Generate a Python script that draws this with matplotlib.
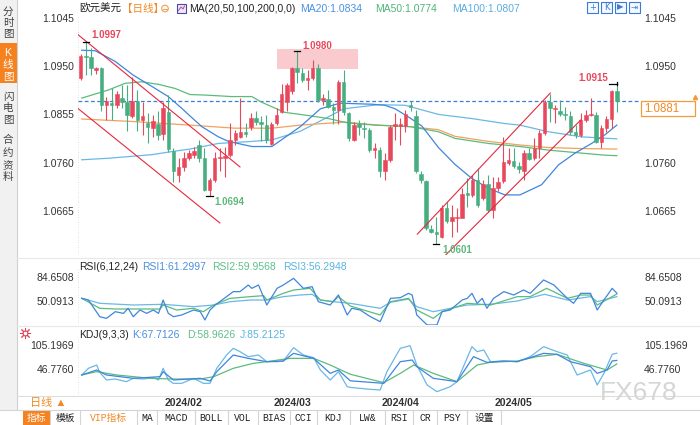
import matplotlib
matplotlib.use('Agg')
import matplotlib.pyplot as plt
from matplotlib.patches import Rectangle, Circle
from matplotlib.transforms import blended_transform_factory

plt.rcParams['font.family'] = ['Liberation Sans', 'Noto Sans CJK SC', 'DejaVu Sans']
plt.rcParams['axes.unicode_minus'] = False

# ---------------- data (EUR/USD daily) ----------------
opens = [1.0927, 1.0969, 1.0968, 1.0942, 1.0947, 1.0874, 1.0878, 1.0874, 1.0888, 1.0880,
         1.0851, 1.0881, 1.0844, 1.0838, 1.0828, 1.0836, 1.0816, 1.0859, 1.0783, 1.0736,
         1.0751, 1.0770, 1.0776, 1.0795, 1.0769, 1.0707, 1.0726, 1.0769, 1.0770, 1.0776,
         1.0805, 1.0811, 1.0821, 1.0831, 1.0847, 1.0841, 1.0834, 1.0796, 1.0838, 1.0859,
         1.0879, 1.0900, 1.0946, 1.0936, 1.0923, 1.0926, 1.0947, 1.0883, 1.0885, 1.0870,
         1.0864, 1.0918, 1.0857, 1.0805, 1.0836, 1.0829, 1.0825, 1.0785, 1.0785, 1.0743,
         1.0766, 1.0833, 1.0833, 1.0833, 1.0874, 1.0851, 1.0738, 1.0724, 1.0630, 1.0624,
         1.0615, 1.0671, 1.0645, 1.0651, 1.0652, 1.0700, 1.0697, 1.0726, 1.0690, 1.0718,
         1.0668, 1.0710, 1.0725, 1.0759, 1.0764, 1.0753, 1.0743, 1.0780, 1.0769, 1.0789,
         1.0818, 1.0880, 1.0866, 1.0862, 1.0855, 1.0851, 1.0821, 1.0815, 1.0844, 1.0853,
         1.0854, 1.0800, 1.0828, 1.0846, 1.0901]
highs = [1.0973, 1.0997, 1.0985, 1.0949, 1.0949, 1.0890, 1.0906, 1.0900, 1.0913, 1.0913,
         1.0929, 1.0903, 1.0880, 1.0857, 1.0854, 1.0861, 1.0880, 1.0893, 1.0789, 1.0769,
         1.0782, 1.0785, 1.0792, 1.0805, 1.0789, 1.0730, 1.0782, 1.0789, 1.0792, 1.0839,
         1.0825, 1.0887, 1.0838, 1.0857, 1.0861, 1.0851, 1.0854, 1.0841, 1.0867, 1.0914,
         1.0916, 1.0949, 1.0980, 1.0946, 1.0942, 1.0962, 1.0953, 1.0896, 1.0903, 1.0877,
         1.0923, 1.0942, 1.0859, 1.0841, 1.0844, 1.0841, 1.0828, 1.0798, 1.0792, 1.0779,
         1.0834, 1.0857, 1.0847, 1.0864, 1.0881, 1.0864, 1.0743, 1.0726, 1.0638, 1.0654,
         1.0677, 1.0684, 1.0677, 1.0671, 1.0710, 1.0730, 1.0736, 1.0749, 1.0726, 1.0736,
         1.0733, 1.0733, 1.0811, 1.0789, 1.0789, 1.0762, 1.0785, 1.0789, 1.0808, 1.0825,
         1.0883, 1.0896, 1.0874, 1.0883, 1.0870, 1.0862, 1.0834, 1.0857, 1.0864, 1.0887,
         1.0859, 1.0834, 1.0851, 1.0903, 1.0915]
lows = [1.0923, 1.0932, 1.0932, 1.0934, 1.0861, 1.0844, 1.0844, 1.0867, 1.0867, 1.0823,
        1.0847, 1.0823, 1.0815, 1.0798, 1.0811, 1.0805, 1.0805, 1.0782, 1.0723, 1.0723,
        1.0743, 1.0766, 1.0769, 1.0762, 1.0704, 1.0694, 1.0723, 1.0743, 1.0733, 1.0772,
        1.0795, 1.0808, 1.0811, 1.0825, 1.0834, 1.0802, 1.0798, 1.0794, 1.0834, 1.0857,
        1.0861, 1.0896, 1.0916, 1.0919, 1.0903, 1.0923, 1.0880, 1.0874, 1.0867, 1.0836,
        1.0836, 1.0854, 1.0802, 1.0802, 1.0815, 1.0808, 1.0782, 1.0769, 1.0733, 1.0726,
        1.0762, 1.0805, 1.0795, 1.0821, 1.0861, 1.0740, 1.0720, 1.0628, 1.0622, 1.0601,
        1.0612, 1.0641, 1.0615, 1.0625, 1.0651, 1.0674, 1.0693, 1.0674, 1.0687, 1.0664,
        1.0651, 1.0704, 1.0720, 1.0756, 1.0749, 1.0740, 1.0726, 1.0766, 1.0766, 1.0769,
        1.0815, 1.0841, 1.0838, 1.0851, 1.0844, 1.0815, 1.0808, 1.0811, 1.0841, 1.0851,
        1.0798, 1.0789, 1.0821, 1.0828, 1.0859]
closes = [1.0970, 1.0967, 1.0947, 1.0947, 1.0874, 1.0881, 1.0874, 1.0895, 1.0880, 1.0853,
          1.0881, 1.0844, 1.0851, 1.0831, 1.0842, 1.0815, 1.0868, 1.0787, 1.0743, 1.0751,
          1.0770, 1.0779, 1.0783, 1.0770, 1.0707, 1.0726, 1.0770, 1.0772, 1.0774, 1.0805,
          1.0818, 1.0821, 1.0816, 1.0847, 1.0841, 1.0836, 1.0805, 1.0836, 1.0854, 1.0895,
          1.0913, 1.0946, 1.0939, 1.0923, 1.0926, 1.0947, 1.0883, 1.0887, 1.0870, 1.0864,
          1.0919, 1.0859, 1.0808, 1.0834, 1.0831, 1.0827, 1.0785, 1.0789, 1.0743, 1.0766,
          1.0831, 1.0836, 1.0836, 1.0855, 1.0870, 1.0743, 1.0726, 1.0632, 1.0625, 1.0620,
          1.0671, 1.0645, 1.0654, 1.0654, 1.0698, 1.0697, 1.0726, 1.0677, 1.0718, 1.0668,
          1.0710, 1.0722, 1.0762, 1.0766, 1.0753, 1.0748, 1.0779, 1.0768, 1.0789, 1.0818,
          1.0880, 1.0867, 1.0868, 1.0855, 1.0853, 1.0821, 1.0815, 1.0844, 1.0854, 1.0855,
          1.0800, 1.0829, 1.0846, 1.0901, 1.0881]

# moving averages (at these candle positions)
ma20_pos = [0.2, 2.8, 6.7, 10.2, 13.8, 17.0, 19.6, 21.2, 23.5, 26.7, 28.7, 33.2, 37.1, 42.6,
            46.5, 50.3, 56.5, 59.0, 61.0, 63.9, 66.2, 69.4, 72.6, 75.8, 79.1, 82.3, 85.2,
            89.4, 92.7, 95.9, 99.1, 101.7, 104.0]
ma20_val = [1.0981, 1.0980, 1.0959, 1.0932, 1.0910, 1.0890, 1.0867, 1.0852, 1.0831, 1.0811,
            1.0802, 1.0792, 1.0792, 1.0831, 1.0866, 1.0877, 1.0875, 1.0873, 1.0866, 1.0848,
            1.0832, 1.0790, 1.0757, 1.0730, 1.0710, 1.0697, 1.0697, 1.0717, 1.0756, 1.0779,
            1.0798, 1.0815, 1.0834]
ma50_pos = [0.2, 5.4, 8.6, 11.8, 15.1, 18.3, 21.2, 24.1, 29.3, 33.2, 35.1, 37.1, 39.6, 42.6,
            48.0, 51.9, 57.1, 63.9, 69.4, 72.6, 79.1, 85.2, 90.7, 97.2, 101.7, 104.0]
ma50_val = [1.0887, 1.0903, 1.0916, 1.0919, 1.0914, 1.0906, 1.0894, 1.0893, 1.0890, 1.0890,
            1.0879, 1.0870, 1.0859, 1.0855, 1.0847, 1.0838, 1.0834, 1.0831, 1.0821, 1.0808,
            1.0798, 1.0792, 1.0785, 1.0779, 1.0775, 1.0774]
ma100_pos = [0.2, 5.4, 13.8, 18.3, 21.2, 26.7, 33.2, 37.1, 42.6, 48.0, 51.0, 57.7, 62.9,
             69.4, 75.8, 82.3, 85.2, 90.7, 97.2, 104.0]
ma100_val = [1.0766, 1.0769, 1.0776, 1.0783, 1.0787, 1.0798, 1.0802, 1.0805, 1.0822, 1.0850,
             1.0866, 1.0874, 1.0873, 1.0855, 1.0847, 1.0837, 1.0834, 1.0821, 1.0811, 1.0807]
ma200_pos = [0.2, 10.2, 21.2, 29.9, 37.1, 42.6, 51.3, 57.7, 63.9, 69.4, 72.6, 79.1, 85.2,
             90.7, 97.2, 104.0]
ma200_val = [1.0846, 1.0841, 1.0834, 1.0828, 1.0828, 1.0834, 1.0840, 1.0834, 1.0831, 1.0825,
             1.0812, 1.0802, 1.0795, 1.0790, 1.0788, 1.0787]

# hand-drawn trend lines (candle position, price)
down_upper = ([-0.7, 30.9], [1.1013, 1.0752])
down_lower = ([-0.7, 27.0], [1.0868, 1.0642])
up_upper = ([65.3, 91.1], [1.0620, 1.0897])
up_lower = ([70.2, 97.0], [1.0573, 1.0844])
zone_pos = (38.1, 53.8)
zone_price = (1.0944, 1.0983)

# RSI(6,12,24)
rsi1_pos = [0.2, 1.5, 3.7, 5.0, 6.7, 8.3, 9.2, 10.2, 11.5, 12.8, 14.1, 15.1, 16.0, 17.0, 18.0,
            19.6, 21.9, 23.2, 24.1, 25.1, 26.1, 28.3, 29.6, 30.9, 32.5, 33.2, 34.5, 36.1, 38.1,
            39.3, 41.3, 43.2, 44.9, 46.1, 48.4, 50.0, 51.7, 52.6, 54.2, 56.2, 58.1, 60.1, 62.0,
            63.6, 64.3, 65.2, 67.2, 69.1, 70.1, 71.7, 74.0, 75.0, 75.9, 76.9, 77.9, 78.8, 80.1,
            82.1, 84.0, 85.9, 87.2, 89.8, 91.8, 94.4, 95.6, 97.0, 98.9, 100.2, 101.5, 103.1, 104.0]
rsi1_val = [53.9, 51.5, 27.8, 25.4, 34.9, 32.5, 39.7, 27.8, 37.3, 32.5, 37.3, 32.5, 51.5, 32.5,
            27.8, 30.2, 37.3, 34.9, 23.1, 37.3, 44.4, 56.3, 63.4, 63.4, 72.8, 68.1, 72.8, 44.4,
            68.1, 72.8, 82.3, 68.1, 70.5, 49.1, 44.4, 58.6, 30.2, 39.7, 37.3, 27.8, 20.7, 53.9,
            54.8, 61.0, 58.6, 30.2, 16.0, 16.0, 34.9, 37.3, 51.5, 53.9, 61.0, 46.8, 53.9, 39.7,
            53.9, 63.4, 58.6, 65.7, 61.0, 80.0, 72.8, 53.9, 46.8, 61.0, 61.0, 37.3, 51.5, 68.1, 61.3]
rsi2_pos = [0.2, 3.7, 6.9, 11.5, 15.4, 16.0, 18.6, 21.9, 23.8, 25.8, 29.0, 32.9, 35.5, 36.1,
            39.3, 41.3, 44.5, 46.5, 49.0, 50.0, 52.3, 58.1, 60.1, 63.6, 65.2, 68.4, 70.1, 75.0,
            79.5, 84.7, 87.2, 90.4, 94.4, 97.0, 98.9, 100.2, 104.0]
rsi2_val = [53.9, 39.7, 38.7, 38.7, 38.7, 44.4, 37.3, 39.7, 34.9, 44.4, 53.9, 56.3, 57.7, 51.5,
            61.0, 65.7, 68.1, 51.5, 49.1, 56.3, 43.0, 30.2, 49.1, 53.9, 37.3, 25.4, 34.9, 46.8,
            44.4, 56.3, 56.3, 68.1, 53.9, 58.6, 58.6, 44.4, 60.0]
rsi3_pos = [0.2, 3.7, 10.2, 16.0, 21.9, 25.8, 29.0, 32.9, 36.1, 39.3, 42.5, 44.9, 46.5, 49.0,
            52.3, 58.1, 60.1, 63.6, 65.2, 68.4, 70.1, 75.0, 79.5, 84.7, 90.0, 94.4, 98.9, 100.2,
            104.0]
rsi3_val = [53.9, 46.8, 44.4, 45.4, 42.0, 44.4, 49.1, 51.5, 51.5, 56.3, 58.6, 59.6, 51.5, 49.1,
            46.8, 39.7, 48.2, 52.9, 42.0, 34.9, 37.3, 44.4, 45.4, 50.1, 59.6, 51.5, 56.3, 49.1,
            56.3]

# KDJ(9,3,3)
k_pos = [0.2, 3.1, 5.0, 10.2, 15.4, 16.0, 18.0, 23.2, 25.1, 26.4, 29.6, 32.5, 36.1, 39.3,
         41.3, 45.2, 48.4, 50.0, 52.3, 58.8, 62.0, 64.3, 65.2, 68.4, 73.0, 76.2, 78.8, 82.1,
         84.7, 89.8, 92.4, 95.0, 98.9, 100.2, 102.1, 103.1, 104.0]
k_val = [32.2, 44.3, 32.2, 24.1, 28.1, 40.3, 20.0, 24.1, 17.6, 40.3, 80.8, 72.7, 64.6, 66.2,
         84.9, 72.7, 36.2, 44.3, 18.0, 11.9, 64.6, 68.7, 52.5, 24.1, 16.0, 76.8, 63.0, 66.2,
         64.6, 84.9, 82.5, 64.6, 52.5, 36.2, 44.3, 66.2, 67.7]
d_pos = [0.2, 3.1, 7.0, 13.5, 18.0, 23.2, 25.8, 29.6, 33.5, 36.1, 40.6, 45.2, 48.4, 52.3, 58.8,
         62.0, 64.6, 68.4, 73.0, 76.9, 79.5, 84.7, 88.5, 92.4, 97.6, 102.1, 104.0]
d_val = [32.2, 40.3, 32.2, 24.1, 22.4, 22.4, 28.1, 48.4, 60.6, 64.6, 72.7, 72.7, 56.5, 34.0,
         13.5, 36.2, 56.5, 36.2, 16.0, 56.5, 63.0, 66.2, 76.8, 82.5, 60.6, 44.3, 59.0]
j_pos = [0.2, 1.5, 3.1, 3.7, 5.0, 6.7, 8.9, 10.2, 12.2, 14.1, 15.1, 16.0, 17.0, 18.0, 19.6,
         21.9, 23.8, 25.1, 26.4, 28.3, 29.6, 30.9, 32.5, 34.5, 36.1, 38.1, 39.3, 41.3, 43.2,
         45.2, 46.5, 48.4, 50.0, 51.7, 52.3, 54.2, 56.2, 58.1, 59.4, 62.0, 63.9, 65.2, 67.2,
         69.1, 71.7, 73.0, 75.9, 76.9, 78.2, 79.5, 82.1, 84.7, 87.2, 89.8, 92.4, 94.4, 96.3,
         98.9, 100.2, 101.5, 103.1, 104.0]
j_val = [32.2, 48.4, 56.5, 38.7, 20.0, 22.4, 16.0, 24.1, 22.4, 25.7, 20.0, 48.4, 20.0, 11.9,
         11.9, 24.1, 11.9, 11.9, 48.4, 80.8, 97.1, 89.0, 76.8, 80.8, 64.6, 64.6, 66.2, 98.7,
         80.8, 74.4, 44.3, 20.0, 40.3, 3.8, 2.0, -0.3, -2.7, -4.3, 40.3, 97.1, 103.5, 56.5,
         7.9, -8.4, 3.8, 16.0, 101.1, 89.0, 93.0, 64.6, 66.2, 64.6, 76.8, 101.1, 89.0, 80.8,
         32.2, 44.3, 7.9, 36.2, 82.5, 85.2]

month_pos = [20, 41, 62, 84]
month_labels = ['2024/02', '2024/03', '2024/04', '2024/05']
price_ticks = [1.1045, 1.0950, 1.0855, 1.0760, 1.0665]
rsi_ticks = [84.6508, 50.0913]
kdj_ticks = [105.1969, 46.7760]

# ---------------- colours ----------------
UP = '#e8485c'
DOWN = '#46ae80'
C_BLUE = '#3f86dc'
C_GREEN = '#5cbb7c'
C_LBLUE = '#6ab8e6'
C_ORANGE = '#f2a25c'
ORANGE = '#f5821f'
GREY = '#333333'

fig = plt.figure(figsize=(7, 4.25), dpi=100)

# pixel-space layer for the window chrome
ui = fig.add_axes([0, 0, 1, 1])
ui.set_xlim(0, 700)
ui.set_ylim(425, 0)
ui.axis('off')


def panel(top, bottom):
    return fig.add_axes([78 / 700, 1 - bottom / 425, (640 - 78) / 700, (bottom - top) / 425])


main = panel(15, 255)
rsi = panel(268, 325)
kdj = panel(337, 395)
XLIM = (-0.52, 108.5)
for a in (main, rsi, kdj):
    a.set_facecolor('none')
    a.set_xlim(*XLIM)
    for s in a.spines.values():
        s.set_visible(False)
    a.tick_params(axis='both', length=0, labelsize=7.5, labelcolor=GREY, pad=3,
                  labelleft=True, labelright=True)
    a.set_xticks([])
    a.axvline(XLIM[0] + 0.05, color='#d8d8d8', lw=0.6, ls=(0, (1, 2)))

main.set_ylim(1.05791, 1.10501)
rsi.set_ylim(15.96, 97.02)
kdj.set_ylim(-16.5, 124.67)
main.set_yticks(price_ticks)
main.set_yticklabels(['%.4f' % v for v in price_ticks])
# the right-hand 1.0855 sits under the last-price box
main.yaxis.get_major_ticks()[2].label2.set_visible(False)
rsi.set_yticks(rsi_ticks)
rsi.set_yticklabels(['%.4f' % v for v in rsi_ticks])
kdj.set_yticks(kdj_ticks)
kdj.set_yticklabels(['%.4f' % v for v in kdj_ticks])
kdj.set_xticks(month_pos)
kdj.set_xticklabels(month_labels, fontweight='bold', fontsize=7.6, color=GREY)
kdj.tick_params(axis='x', pad=2.5, length=0)

# ---------------- main price panel ----------------
idx = list(range(len(closes)))
cols = [UP if c >= o else DOWN for o, c in zip(opens, closes)]
main.vlines(idx, lows, highs, colors=cols, lw=0.8, zorder=3)
bottoms = [min(o, c) for o, c in zip(opens, closes)]
heights = [max(abs(c - o), 0.00008) for o, c in zip(opens, closes)]
main.bar(idx, heights, bottom=bottoms, width=0.68, color=cols, edgecolor=cols, lw=0.4, zorder=4)

main.plot(ma100_pos, ma100_val, color=C_LBLUE, lw=0.9, zorder=2)
main.plot(ma200_pos, ma200_val, color=C_ORANGE, lw=0.9, zorder=2)
main.plot(ma50_pos, ma50_val, color=C_GREEN, lw=0.9, zorder=2)
main.plot(ma20_pos, ma20_val, color=C_BLUE, lw=0.9, zorder=2)

for xs, ys in (down_upper, down_lower, up_upper, up_lower):
    main.plot(xs, ys, color='#e8283c', lw=0.8, zorder=5)

main.add_patch(Rectangle((zone_pos[0], zone_price[0]), zone_pos[1] - zone_pos[0],
                         zone_price[1] - zone_price[0], facecolor='#f7b9be', alpha=0.75,
                         edgecolor='none', zorder=1))

last = closes[-1]
main.axhline(last, color='#3a7fd5', lw=0.9, ls=(0, (3, 2)), zorder=1)
blend = blended_transform_factory(main.transAxes, main.transData)
box_h = 15 / 5095
main.add_patch(Rectangle((1.0018, last - box_h), 0.096, box_h, transform=blend,
                         facecolor='white', edgecolor='#f39a3a', lw=0.9, clip_on=False, zorder=6))
main.text(1.008, last - box_h / 2, '%.4f' % last, transform=blend, color='#f08a24',
          fontsize=8.3, va='center', ha='left', clip_on=False, zorder=7)
main.plot([1.0985], [last + 0.0008], transform=blend, marker='^', ms=3, color='#f39a3a',
          clip_on=False)

# extreme markers
hi_i = 1
lo_i = 25
hi2_i = 42
lo2_i = 69
end_i = len(closes) - 1
for i, p in ((hi_i, highs[hi_i]), (hi2_i, highs[hi2_i]), (lo_i, lows[lo_i]), (lo2_i, lows[lo2_i])):
    main.plot([i - 0.6, i + 0.6], [p, p], color='black', lw=0.9, zorder=6)
main.plot([end_i - 1.6, end_i], [highs[end_i], highs[end_i]], color='black', lw=0.9, zorder=6)
main.plot([end_i, end_i], [highs[end_i] - 0.0003, highs[end_i] + 0.0003], color='black', lw=0.9,
          zorder=6)

lbl = dict(fontsize=7, fontweight='bold', textcoords='offset pixels', va='center', zorder=7)
main.annotate('%.4f' % highs[hi_i], (hi_i, highs[hi_i]), xytext=(6, 7), color=UP, ha='left', **lbl)
main.annotate('%.4f' % highs[hi2_i], (hi2_i, highs[hi2_i]), xytext=(5, 5), color=UP, ha='left', **lbl)
main.annotate('%.4f' % lows[lo_i], (lo_i, lows[lo_i]), xytext=(5, -6), color='#5cb87a', ha='left', **lbl)
main.annotate('%.4f' % lows[lo2_i], (lo2_i, lows[lo2_i]), xytext=(6, -6), color='#5cb87a', ha='left', **lbl)
main.annotate('%.4f' % highs[end_i], (end_i, highs[end_i]), xytext=(-9, 6), color=UP, ha='right', **lbl)

# ---------------- RSI / KDJ ----------------
rsi.plot(rsi3_pos, rsi3_val, color=C_LBLUE, lw=0.9)
rsi.plot(rsi2_pos, rsi2_val, color=C_GREEN, lw=0.9)
rsi.plot(rsi1_pos, rsi1_val, color=C_BLUE, lw=0.9)
kdj.plot(j_pos, j_val, color=C_LBLUE, lw=0.9)
kdj.plot(d_pos, d_val, color=C_GREEN, lw=0.9)
kdj.plot(k_pos, k_val, color=C_BLUE, lw=0.9)

# ---------------- window chrome ----------------
ui.add_patch(Rectangle((0, 0), 16.5, 410, facecolor='#f1f1f1', edgecolor='none'))
ui.plot([16.5, 16.5], [0, 410], color='#cfcfcf', lw=0.8)
ui.add_patch(Rectangle((0, 43), 16.5, 40, facecolor=ORANGE, edgecolor='none'))
side = [('分', 12, '#444'), ('时', 23, '#444'), ('图', 34, '#444'),
        ('K', 53, 'white'), ('线', 65, 'white'), ('图', 77, 'white'),
        ('闪', 97, '#444'), ('电', 108, '#444'), ('图', 120, '#444'),
        ('合', 140, '#444'), ('约', 153, '#444'), ('资', 166, '#444'), ('料', 177, '#444')]
for ch, y, c in side:
    ui.text(8, y, ch, ha='center', va='center', fontsize=7.6, color=c)

for y in (258, 326):
    ui.plot([17, 700], [y, y], color='#e8e8e8', lw=0.8)
ui.plot([17, 700], [395.5, 395.5], color='#dedede', lw=0.8)

# header
hy = 8.5
ui.text(79, hy, '欧元美元', fontsize=7.6, color='#222', va='center')
ui.text(122, hy, '【日线】', fontsize=7.6, color='#f08a24', va='center')
ui.add_patch(Circle((165, hy), 3.3, facecolor='none', edgecolor='#f0a050', lw=0.8))
ui.plot([163, 167], [hy, hy], color='#f0a050', lw=0.8)
ui.add_patch(Rectangle((177, 4), 8.5, 8.5, facecolor='#efe8fa', edgecolor='#4a4a9a', lw=0.8))
ui.plot([178.5, 181, 183, 184.5], [10.5, 7, 9, 6], color='#b04aa0', lw=0.7)
ui.text(189, hy, 'MA(20,50,100,200,0,0)', fontsize=7.5, color='#222', va='center')
ui.text(300, hy, 'MA20:1.0834', fontsize=7.5, color='#4a90e2', va='center')
ui.text(375, hy, 'MA50:1.0774', fontsize=7.5, color='#4fb574', va='center')
ui.text(452, hy, 'MA100:1.0807', fontsize=7.5, color='#5aaee0', va='center')
for k, x in enumerate((587, 601, 615, 629)):
    ui.add_patch(Rectangle((x, 1.5), 11, 11, facecolor='#f4f8ff', edgecolor='#3a7bd5', lw=0.8))
    ui.text(x + 5.5, 7, ['+', 'K', '▶', '⇥'][k], fontsize=6, color='#3a7bd5', ha='center',
            va='center', family='DejaVu Sans')

ry = 266.5
ui.text(79, ry, 'RSI(6,12,24)', fontsize=7.5, color='#222', va='center')
ui.text(142, ry, 'RSI1:61.2997', fontsize=7.5, color='#4a8ee0', va='center')
ui.text(212, ry, 'RSI2:59.9568', fontsize=7.5, color='#5cc08a', va='center')
ui.text(283, ry, 'RSI3:56.2948', fontsize=7.5, color='#5ab4e0', va='center')
ky = 335
ui.text(79, ky, 'KDJ(9,3,3)', fontsize=7.5, color='#222', va='center')
ui.text(132, ky, 'K:67.7126', fontsize=7.5, color='#4a8ee0', va='center')
ui.text(187, ky, 'D:58.9626', fontsize=7.5, color='#5cc08a', va='center')
ui.text(240, ky, 'J:85.2125', fontsize=7.5, color='#5ab4e0', va='center')
ui.plot([25], [333], marker=(8, 2, 0), ms=8, color='#e04055', mew=0.7)
ui.plot([25], [333], marker='o', ms=3.5, mfc='white', mec='#e04055', mew=0.8)

ui.text(30, 403, '日线 ▲', fontsize=8, color='#f08a24', va='center')
ui.text(677, 393, 'FX678', fontsize=19, color='#d6d6d6', ha='right', va='center',
        family='Liberation Sans')

# bottom toolbar
ui.plot([0, 700], [410, 410], color='#d4d4d4', lw=0.8)
tabs = [('指标', 23, 50), ('模板', 50, 80), ('VIP指标', 80, 137), ('MA', 137, 157),
        ('MACD', 157, 195), ('BOLL', 195, 228), ('VOL', 228, 258), ('BIAS', 258, 290),
        ('CCI', 290, 317), ('KDJ', 317, 350), ('LW&', 350, 385), ('RSI', 385, 413),
        ('CR', 413, 437), ('PSY', 437, 467), ('设置', 467, 501)]
for name, x0, x1 in tabs:
    if name == '指标':
        ui.add_patch(Rectangle((x0, 410.5), x1 - x0, 14.5, facecolor=ORANGE, edgecolor='none'))
        col = 'white'
    elif name == 'VIP指标':
        col = '#f08a24'
    else:
        col = '#222'
    ui.plot([x1, x1], [410.5, 425], color='#d4d4d4', lw=0.8)
    ui.text((x0 + x1) / 2, 418, name, fontsize=7, color=col, ha='center', va='center',
            family=['Liberation Mono', 'Noto Sans CJK SC'])

fig.savefig('out.png', dpi=100)
